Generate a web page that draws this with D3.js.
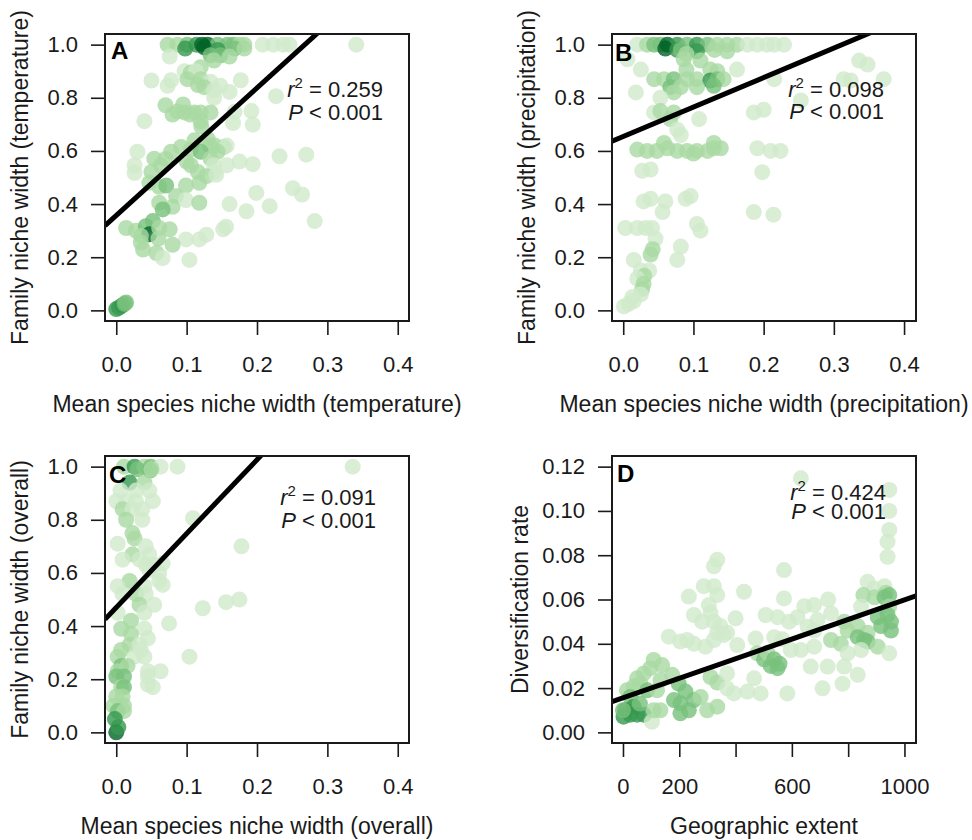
<!DOCTYPE html>
<html>
<head>
<meta charset="utf-8">
<script src="https://cdn.jsdelivr.net/npm/d3@7"></script>
<style>
  body { margin: 0; background: #fff; }
  svg { display: block; }
</style>
</head>
<body>
<svg id="chart" width="972" height="840"></svg>
<script>
// points are [x, y, shade]; shade 0 (lightest) .. 4 (darkest)
var ptsA = [
  [0.073,1.0,1],[0.087,1.0,1],[0.101,1.0,2],[0.114,1.0,3],[0.122,1.0,4],[0.130,1.0,4],[0.144,1.0,2],[0.158,1.0,2],
  [0.166,1.0,2],[0.175,1.0,1],[0.182,1.0,1],[0.208,1.0,0],[0.223,1.0,0],[0.237,1.0,0],[0.246,1.0,0],[0.341,1.0,0],
  [0.098,0.985,3],[0.125,0.99,4],[0.144,0.98,3],[0.168,0.985,2],[0.182,0.985,1],
  [0.076,0.955,0],[0.134,0.96,2],[0.148,0.96,2],[0.161,0.955,1],[0.139,0.94,1],
  [0.120,0.915,1],[0.097,0.9,0],[0.106,0.895,1],[0.113,0.9,0],
  [0.050,0.865,0],[0.078,0.866,0],[0.101,0.87,1],[0.120,0.87,1],[0.134,0.86,0],[0.177,0.866,0],
  [0.073,0.845,0],[0.116,0.848,1],[0.125,0.84,1],[0.148,0.845,0],[0.139,0.828,0],[0.161,0.822,0],
  [0.139,0.8,0],[0.227,0.806,0],[0.070,0.772,1],[0.095,0.775,1],
  [0.087,0.748,1],[0.097,0.745,1],[0.111,0.745,1],[0.120,0.745,1],[0.134,0.745,1],[0.168,0.747,0],[0.192,0.75,0],
  [0.080,0.737,1],[0.105,0.737,1],
  [0.040,0.712,0],[0.120,0.71,1],[0.166,0.705,0],[0.194,0.699,0],[0.121,0.692,1],
  [0.111,0.64,1],[0.130,0.645,1],
  [0.092,0.615,1],[0.153,0.615,1],[0.133,0.62,1],[0.140,0.62,1],[0.157,0.62,0],[0.106,0.605,1],
  [0.030,0.597,0],[0.078,0.597,1],[0.120,0.597,2],[0.144,0.597,1],
  [0.054,0.571,1],[0.134,0.571,1],[0.070,0.57,1],[0.100,0.56,1],[0.175,0.56,0],[0.194,0.55,0],[0.232,0.58,0],[0.270,0.586,0],
  [0.026,0.546,0],[0.063,0.546,1],[0.106,0.546,1],[0.139,0.546,0],[0.157,0.546,0],
  [0.050,0.521,1],[0.116,0.521,1],[0.139,0.52,0],[0.026,0.517,0],
  [0.047,0.48,1],[0.061,0.465,1],[0.071,0.47,2],[0.085,0.43,1],[0.099,0.47,1],[0.118,0.48,1],[0.128,0.505,1],[0.142,0.51,0],
  [0.199,0.442,0],[0.251,0.46,0],[0.264,0.436,0],
  [0.061,0.405,1],[0.080,0.39,1],[0.099,0.415,0],[0.118,0.405,1],[0.161,0.40,0],[0.185,0.373,0],[0.218,0.392,0],[0.066,0.38,2],
  [0.282,0.336,0],
  [0.014,0.31,1],[0.028,0.30,1],[0.042,0.317,2],[0.052,0.336,2],[0.047,0.286,4],[0.076,0.305,1],[0.035,0.28,1],[0.061,0.31,1],
  [0.099,0.267,0],[0.118,0.267,0],[0.128,0.285,0],[0.152,0.305,0],[0.156,0.315,0],[0.060,0.27,1],
  [0.038,0.229,1],[0.057,0.216,1],[0.066,0.197,0],[0.080,0.247,1],[0.035,0.255,1],[0.104,0.19,0],
  [0.0,0.005,3],[0.004,0.01,3],[0.008,0.018,3],[0.012,0.025,2],[0.014,0.03,2]
];

var ptsB = [
  [0.020,1.0,0],[0.034,1.0,1],[0.044,1.0,2],[0.053,1.0,2],[0.063,1.0,4],[0.077,1.0,3],[0.091,1.0,2],[0.105,1.0,3],
  [0.120,1.0,2],[0.134,1.0,1],[0.148,1.0,1],[0.162,1.0,1],[0.177,1.0,0],[0.191,1.0,0],[0.205,1.0,0],[0.215,1.0,0],[0.229,1.0,0],
  [0.060,0.985,4],[0.077,0.98,3],[0.105,0.975,3],[0.082,0.98,2],[0.130,0.98,1],[0.148,0.975,1],[0.090,0.965,1],
  [0.006,0.945,0],[0.086,0.945,1],[0.110,0.94,1],
  [0.025,0.906,0],[0.090,0.906,1],[0.124,0.906,1],[0.134,0.9,1],[0.162,0.906,0],
  [0.044,0.87,1],[0.058,0.87,1],[0.072,0.87,2],[0.091,0.87,1],[0.105,0.87,1],[0.124,0.865,3],[0.134,0.87,2],[0.143,0.87,1],[0.215,0.87,0],
  [0.067,0.84,2],[0.082,0.84,1],[0.105,0.84,1],[0.129,0.845,2],
  [0.018,0.82,0],[0.072,0.82,1],[0.053,0.80,0],
  [0.336,0.94,0],[0.348,0.925,0],[0.314,0.87,0],[0.324,0.865,0],[0.371,0.87,0],[0.253,0.79,0],
  [0.044,0.745,0],[0.053,0.75,1],[0.072,0.745,1],[0.186,0.745,0],[0.200,0.755,0],
  [0.067,0.72,1],[0.108,0.72,0],[0.077,0.68,0],[0.082,0.66,0],
  [0.020,0.605,1],[0.034,0.6,1],[0.048,0.6,1],[0.063,0.61,1],[0.077,0.6,1],[0.091,0.6,1],[0.105,0.6,1],[0.120,0.6,1],
  [0.129,0.61,1],[0.139,0.61,1],[0.191,0.61,0],[0.210,0.6,0],[0.224,0.6,0],[0.058,0.63,1],[0.129,0.63,1],[0.100,0.59,1],
  [0.027,0.525,0],[0.039,0.53,0],[0.198,0.52,0],
  [0.029,0.41,0],[0.039,0.42,0],[0.060,0.41,0],[0.089,0.42,0],[0.096,0.43,0],
  [0.056,0.37,0],[0.186,0.37,0],[0.214,0.36,0],
  [0.003,0.31,0],[0.020,0.31,0],[0.032,0.31,0],[0.041,0.31,0],[0.105,0.325,0],[0.110,0.3,0],
  [0.046,0.27,0],[0.082,0.24,0],[0.039,0.21,1],[0.042,0.23,1],
  [0.015,0.19,0],[0.077,0.19,0],[0.025,0.15,0],[0.037,0.15,0],[0.030,0.13,1],
  [0.020,0.12,0],[0.029,0.1,1],[0.027,0.08,1],[0.025,0.06,0],[0.013,0.05,0],
  [0.001,0.015,0],[0.008,0.025,0],[0.015,0.035,0]
];

var ptsC = [
  [0.011,1.0,1],[0.026,1.0,3],[0.040,1.0,1],[0.049,1.0,2],[0.063,1.0,0],[0.087,1.0,0],[0.336,1.0,0],
  [0.030,0.99,2],[0.048,0.985,2],[0.050,0.99,1],[0.019,0.94,3],[0.040,0.94,1],
  [0.006,0.91,0],[0.028,0.91,0],[0.047,0.91,0],
  [0.000,0.87,0],[0.014,0.87,0],[0.028,0.87,0],[0.052,0.87,0],
  [0.009,0.84,1],[0.023,0.84,0],[0.037,0.84,0],
  [0.014,0.80,1],[0.037,0.80,0],[0.109,0.806,0],
  [0.023,0.75,1],[0.026,0.73,1],[0.002,0.71,0],[0.042,0.70,0],[0.178,0.70,0],
  [0.023,0.67,1],[0.047,0.67,0],[0.009,0.65,0],[0.033,0.65,0],
  [0.042,0.63,0],[0.054,0.63,0],[0.066,0.636,0],[0.047,0.61,0],[0.061,0.60,0],
  [0.019,0.57,1],[0.061,0.57,0],[0.002,0.55,0],[0.040,0.55,0],[0.066,0.555,0],
  [0.009,0.52,0],[0.028,0.52,1],[0.042,0.52,0],
  [0.123,0.467,0],[0.156,0.49,0],[0.175,0.5,0],
  [0.033,0.48,1],[0.054,0.48,0],[0.002,0.45,0],[0.040,0.45,0],
  [0.021,0.42,1],[0.075,0.41,0],[0.007,0.39,1],[0.040,0.39,0],
  [0.021,0.37,1],[0.045,0.354,0],[0.019,0.33,1],[0.033,0.33,0],[0.104,0.285,0],
  [0.007,0.31,1],[0.035,0.31,0],[0.002,0.285,1],[0.026,0.285,0],[0.040,0.285,0],
  [0.007,0.25,2],[0.016,0.25,1],[0.002,0.23,1],[0.045,0.23,0],[0.063,0.23,0],
  [0.000,0.21,2],[0.011,0.21,2],[0.045,0.21,0],[0.052,0.17,0],[0.045,0.18,0],
  [0.007,0.17,1],[0.011,0.17,2],[0.000,0.135,1],[0.009,0.135,1],
  [-0.004,0.10,1],[0.011,0.10,1],[0.002,0.08,2],[0.011,0.08,1],
  [-0.002,0.05,3],[0.000,0.0,4],[0.003,0.02,3]
];

var ptsD = [
  [632,0.1147,0],[946,0.1095,0],[946,0.100,0],[946,0.0914,0],[940,0.0861,0],[940,0.0793,0],
  [335,0.078,0],[323,0.075,0],[572,0.0733,0],
  [869,0.068,0],[893,0.065,0],[929,0.066,0],[934,0.063,1],
  [287,0.066,0],[323,0.066,0],[335,0.062,0],[234,0.0613,0],[430,0.0635,0],[572,0.0605,0],
  [854,0.062,1],[893,0.061,1],[929,0.061,2],[946,0.062,2],
  [305,0.0575,0],[311,0.054,0],[644,0.057,0],[679,0.0575,0],[729,0.06,0],[846,0.0568,0],[946,0.0568,1],
  [507,0.053,0],[549,0.052,0],[590,0.05,0],[620,0.052,0],[905,0.052,2],[940,0.053,2],[952,0.050,2],
  [252,0.053,0],[281,0.05,0],[323,0.05,0],[346,0.048,0],[370,0.045,0],[335,0.045,0],[400,0.0515,0],[691,0.0507,0],
  [786,0.050,1],[798,0.046,1],[834,0.048,1],[869,0.045,1],[917,0.048,2],[952,0.046,2],
  [163,0.0432,0],[204,0.041,0],[228,0.0417,0],[252,0.040,0],[293,0.0387,0],[323,0.0417,0],[358,0.044,0],[406,0.0394,0],
  [471,0.0424,0],[537,0.043,0],[566,0.042,0],[632,0.0372,0],[679,0.0387,0],[739,0.0417,1],[774,0.040,1],
  [834,0.043,2],[857,0.0417,2],[869,0.041,2],[905,0.0387,1],[946,0.0357,0],
  [109,0.0327,1],[139,0.0304,1],[97,0.029,1],[74,0.0266,1],[50,0.0244,1],[38,0.0206,1],[14,0.019,1],[26,0.016,2],
  [62,0.022,1],[86,0.019,2],[133,0.0236,1],[121,0.019,1],[175,0.026,1],[198,0.022,2],[222,0.0184,2],[181,0.0146,2],
  [204,0.0131,2],[252,0.0146,2],[276,0.016,1],[234,0.010,2],[204,0.0086,2],[299,0.010,1],[335,0.0116,1],
  [311,0.025,1],[335,0.0225,1],[370,0.0266,0],[370,0.0199,0],[394,0.0176,0],[442,0.0184,0],[489,0.0176,0],[466,0.0244,0],
  [477,0.0357,1],[501,0.033,2],[525,0.030,2],[549,0.029,2],[513,0.036,1],[537,0.033,2],[556,0.031,2],
  [596,0.0372,0],[584,0.0176,0],[667,0.0297,0],[727,0.0297,0],[709,0.0199,0],[786,0.0297,0],[780,0.022,0],
  [834,0.026,0],[846,0.0372,0],[798,0.0357,0],
  [2,0.0071,3],[26,0.008,3],[50,0.008,3],[74,0.008,3],[8,0.010,3],[38,0.0116,3],[103,0.0048,0],[109,0.010,1],
  [133,0.010,1],[679,0.046,0],[656,0.0477,0],[739,0.0537,0],[0,0.01,2],[60,0.013,2]
];

// fitted lines [intercept, slope]
var fitA = [0.357, 2.40],
    fitB = [0.654, 1.11],
    fitC = [0.470, 2.78],
    fitD = [0.0156, 0.0000442];

var nicheTicks = [0, 0.1, 0.2, 0.3, 0.4],
    fracTicks = [0, 0.2, 0.4, 0.6, 0.8, 1.0],
    extentTicks = [0, 200, 400, 600, 800, 1000],
    extentLabels = ['0', '200', '', '600', '', '1000'],
    rateTicks = [0, 0.02, 0.04, 0.06, 0.08, 0.10, 0.12];

var r2Values = ['0.259', '0.098', '0.091', '0.424'],
    pValues = ['0.001', '0.001', '0.001', '0.001'];

var FONT = '"Liberation Sans", Arial, Helvetica, sans-serif';
var shadeColors = ['#cfeaca', '#a9daa2', '#78c17c', '#36984f', '#036428'];

var W = 304, H = 287;
var panels = [
  {id: 'A', left: 105, top: 34, pts: ptsA, fit: fitA, xdom: [-0.016, 0.416], ydom: [-0.04, 1.04],
   xt: nicheTicks, xf: d3.format('.1f'), yt: fracTicks, yf: d3.format('.1f'),
   xlab: 'Mean species niche width (temperature)', ylab: 'Family niche width (temperature)', ylabOff: 77,
   letter: [6, 25], stat: [-26, 63, 23]},
  {id: 'B', left: 612, top: 34, pts: ptsB, fit: fitB, xdom: [-0.016, 0.417], ydom: [-0.04, 1.04],
   xt: nicheTicks, xf: d3.format('.1f'), yt: fracTicks, yf: d3.format('.1f'),
   xlab: 'Mean species niche width (precipitation)', ylab: 'Family niche width (precipitation)', ylabOff: 77,
   letter: [3, 27], stat: [-32, 63, 22]},
  {id: 'C', left: 105, top: 456, pts: ptsC, fit: fitC, xdom: [-0.016, 0.416], ydom: [-0.04, 1.04],
   xt: nicheTicks, xf: d3.format('.1f'), yt: fracTicks, yf: d3.format('.1f'),
   xlab: 'Mean species niche width (overall)', ylab: 'Family niche width (overall)', ylabOff: 77,
   letter: [4, 27], stat: [-33, 49, 23]},
  {id: 'D', left: 612, top: 456, pts: ptsD, fit: fitD, xdom: [-39, 1041], ydom: [-0.0048, 0.1248],
   xt: extentTicks, xf: function(d, i) { return extentLabels[i]; }, yt: rateTicks, yf: d3.format('.2f'),
   xlab: 'Geographic extent', ylab: 'Diversification rate', ylabOff: 84,
   letter: [5, 26], stat: [-30, 44, 19]}
];

var svg = d3.select('#chart');

panels.forEach(function(p, k) {
  var g = svg.append('g').attr('transform', 'translate(' + p.left + ',' + p.top + ')');
  var x = d3.scaleLinear().domain(p.xdom).range([0, W]);
  var y = d3.scaleLinear().domain(p.ydom).range([H, 0]);

  g.append('clipPath').attr('id', 'clip' + p.id)
    .append('rect').attr('width', W).attr('height', H);

  var plot = g.append('g').attr('clip-path', 'url(#clip' + p.id + ')');

  plot.selectAll('circle').data(p.pts).enter().append('circle')
    .attr('cx', function(d) { return x(d[0]); })
    .attr('cy', function(d) { return y(d[1]); })
    .attr('r', 8)
    .attr('fill', function(d) { return shadeColors[d[2]]; })
    .attr('fill-opacity', 0.8);

  // regression line across the full x range
  plot.append('line')
    .attr('x1', x(p.xdom[0])).attr('y1', y(p.fit[0] + p.fit[1] * p.xdom[0]))
    .attr('x2', x(p.xdom[1])).attr('y2', y(p.fit[0] + p.fit[1] * p.xdom[1]))
    .attr('stroke', '#000').attr('stroke-width', 5);

  g.append('rect').attr('width', W).attr('height', H)
    .attr('fill', 'none').attr('stroke', '#1a1a1a').attr('stroke-width', 2);

  var xAxis = d3.axisBottom(x).tickValues(p.xt).tickFormat(p.xf).tickSize(14).tickPadding(21);
  var yAxis = d3.axisLeft(y).tickValues(p.yt).tickFormat(p.yf).tickSize(14).tickPadding(13);

  var gx = g.append('g').attr('transform', 'translate(0,' + H + ')').call(xAxis);
  var gy = g.append('g').call(yAxis);
  [gx, gy].forEach(function(a) {
    a.select('.domain').remove();
    a.attr('font-family', FONT).attr('font-size', 22);
    a.selectAll('line').attr('stroke', '#1a1a1a').attr('stroke-width', 1.6);
    a.selectAll('text').attr('fill', '#1a1a1a');
  });

  g.append('text')
    .attr('x', W / 2).attr('y', H + 91)
    .attr('text-anchor', 'middle')
    .style('font-family', FONT).style('font-size', '23px').style('fill', '#1a1a1a')
    .text(p.xlab);

  g.append('text')
    .attr('transform', 'translate(' + (-p.ylabOff) + ',' + (H / 2) + ') rotate(-90)')
    .attr('text-anchor', 'middle')
    .style('font-family', FONT).style('font-size', '23px').style('fill', '#1a1a1a')
    .text(p.ylab);

  g.append('text')
    .attr('x', p.letter[0]).attr('y', p.letter[1])
    .style('font-family', FONT).style('font-size', '24px').style('font-weight', 'bold')
    .text(p.id);

  var s1 = g.append('text')
    .attr('x', W + p.stat[0]).attr('y', p.stat[1])
    .attr('text-anchor', 'end')
    .style('font-family', FONT).style('font-size', '22px').style('fill', '#1a1a1a');
  s1.append('tspan').style('font-style', 'italic').text('r');
  s1.append('tspan').attr('dy', -9).style('font-size', '15px').text('2');
  s1.append('tspan').attr('dy', 9).text(' = ' + r2Values[k]);

  var s2 = g.append('text')
    .attr('x', W + p.stat[0]).attr('y', p.stat[1] + p.stat[2])
    .attr('text-anchor', 'end')
    .style('font-family', FONT).style('font-size', '22px').style('fill', '#1a1a1a');
  s2.append('tspan').style('font-style', 'italic').text('P');
  s2.append('tspan').text(' < ' + pValues[k]);
});
</script>
</body>
</html>
